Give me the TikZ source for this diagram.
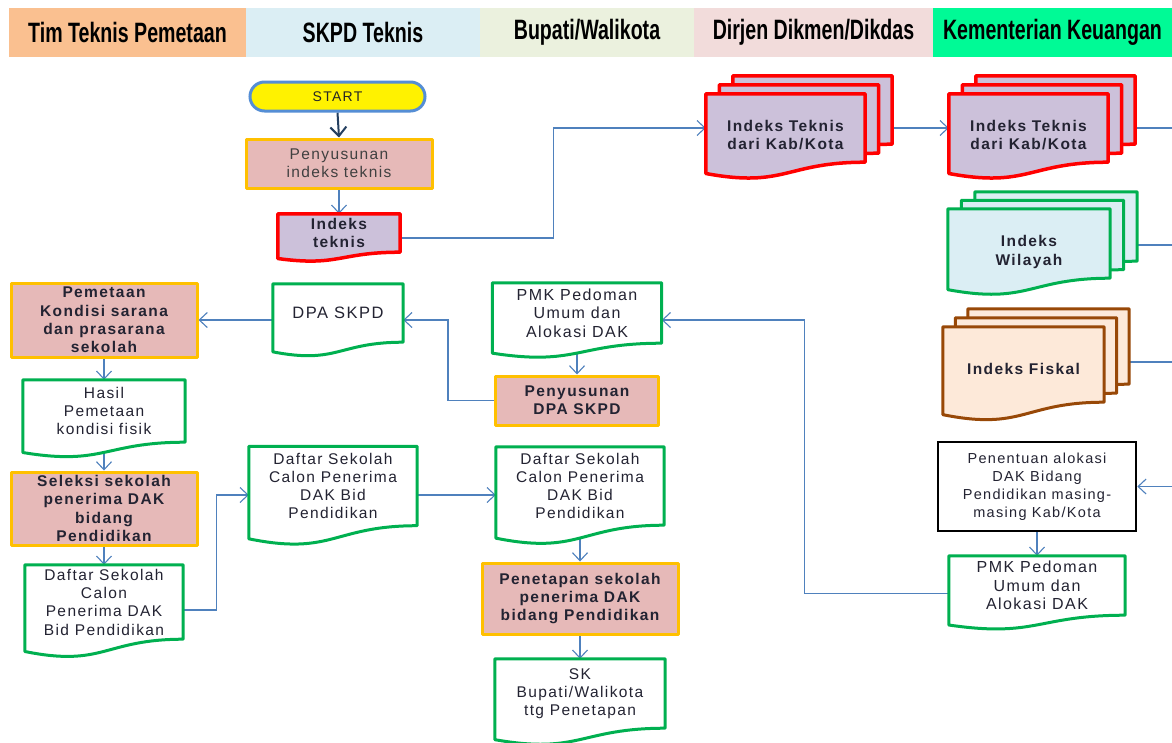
\documentclass[tikz,border=0pt]{standalone}
\usepackage{fontspec}
\usetikzlibrary{arrows.meta,shapes.misc,calc}
\newfontfamily\bodyfont{Liberation Sans}[LetterSpace=9]
\newfontfamily\headfont{Liberation Sans}[FakeStretch=0.7]

\definecolor{hdOrange}{RGB}{250,192,144}
\definecolor{hdBlue}{RGB}{219,238,244}
\definecolor{hdGreen}{RGB}{235,241,222}
\definecolor{hdPink}{RGB}{242,220,219}
\definecolor{hdMint}{RGB}{0,250,150}
\definecolor{procFill}{RGB}{230,185,184}
\definecolor{procLine}{RGB}{255,192,0}
\definecolor{lavFill}{RGB}{204,193,218}
\definecolor{docGreen}{RGB}{0,176,80}
\definecolor{wilFill}{RGB}{219,238,244}
\definecolor{fisFill}{RGB}{253,233,217}
\definecolor{fisLine}{RGB}{152,72,7}
\definecolor{connBlue}{RGB}{79,129,189}
\definecolor{startLine}{RGB}{85,142,213}
\definecolor{darkArrow}{RGB}{36,63,96}
\definecolor{txt}{RGB}{35,35,50}

\pgfdeclarelayer{bg}
\pgfdeclarelayer{lines}
\pgfdeclarelayer{shapes}
\pgfsetlayers{bg,lines,shapes,main}

% document outline: flat top, straight sides, wavy bottom.
% #1 style, #2 node, #3 distance of the straight bottom above the node's south side,
% #4,#5 offset of the outline (right, up)
\newcommand\docoutline[5]{%
  \begin{pgfonlayer}{shapes}
  \path[#1] let \p1=($(#2.north west)+(#4,-#5)$), \p2=($(#2.south east)+(#4,-#5)$),
    \n1={\y1-\y2-#3pt} in
    (\x1,\y1) -- (\x2,\y1) -- (\x2,{\y2+#3pt})
    .. controls ({(\x1+\x2)/2},{\y2+#3pt}) and ({(\x1+\x2)/2},{\y2+#3pt-0.381*\n1}) ..
    (\x1,{\y2+#3pt-0.165*\n1}) -- cycle;
  \end{pgfonlayer}}
% stacked documents: two copies behind, shifted by (#4,#5) each
\newcommand\multidocoutline[5]{%
  \docoutline{#1}{#2}{#3}{2*#4}{2*#5}%
  \docoutline{#1}{#2}{#3}{#4}{#5}%
  \docoutline{#1}{#2}{#3}{0}{0}}

\begin{document}
\begin{tikzpicture}[x=1pt,y=-1pt,
  base/.style={font={\bodyfont\fontsize{15.5}{18.3}\selectfont}, text=txt, align=center, inner sep=0pt},
  heavy/.style={font={\bodyfont\bfseries\fontsize{15.5}{18.3}\selectfont}},
  larger/.style={font={\bodyfont\fontsize{16}{18.3}\selectfont}},
  smaller/.style={font={\bodyfont\fontsize{14.5}{18}\selectfont}},
  band/.style={rectangle, inner sep=0pt, minimum height=49, text=black,
    font={\headfont\bfseries\fontsize{28}{30}\selectfont}},
  procbox/.style={base, rectangle, draw=procLine, fill=procFill, line width=3pt, line join=round},
  plainbox/.style={base, rectangle, draw=black, fill=white, line width=2.6pt},
  docnode/.style={base, rectangle},
  docG/.style={draw=docGreen, fill=white, line width=3pt, line join=round},
  docR/.style={draw=red, fill=lavFill, line width=3.5pt, line join=round},
  docW/.style={draw=docGreen, fill=wilFill, line width=3pt, line join=round},
  docF/.style={draw=fisLine, fill=fisFill, line width=3pt, line join=round},
  conn/.style={draw=connBlue, line width=1.1pt, -{Straight Barb[length=8pt,width=15pt]}},
  wire/.style={draw=connBlue, line width=1.1pt},
  darkconn/.style={draw=darkArrow, line width=2pt, -{Straight Barb[length=9pt,width=16pt]}}
]
\useasboundingbox (0,0) rectangle (1172,742);
\begin{pgfonlayer}{bg}
  \fill[white] (0,0) rectangle (1172,742);
\end{pgfonlayer}

% ---- swimlane headers
\node[band, fill=hdOrange, minimum width=237] (hTim)  at (127.5,32.5) {Tim Teknis Pemetaan};
\node[band, fill=hdBlue,   minimum width=234] (hSkpd) at (363,32.5)   {SKPD Teknis};
\node[band, fill=hdGreen,  minimum width=214] (hBup)  at (587,32.5)   {Bupati/Walikota};
\node[band, fill=hdPink,   minimum width=239] (hDir)  at (813.5,32.5) {Dirjen Dikmen/Dikdas};
\node[band, fill=hdMint,   minimum width=239] (hKeu)  at (1052.5,32.5) {Kementerian Keuangan};

% ---- SKPD Teknis column
\node[base, rounded rectangle, draw=startLine, fill=yellow, line width=3pt,
  minimum width=175, minimum height=29, font={\bodyfont\fontsize{14}{16}\selectfont}, text=black!85]
  (start) at (337.5,96.5) {START};
\node[procbox, minimum width=186, minimum height=49, text=black!75] (penyIdx) at (339,163.5)
  {Penyusunan\\indeks teknis};
\node[docnode, heavy, minimum width=122, minimum height=38] (idxTek) at (339,233) {Indeks\\teknis};
\docoutline{docR}{idxTek}{0}{0}{0}

\node[docnode, font={\bodyfont\fontsize{16.5}{18.3}\selectfont}, minimum width=130, minimum height=58]
  (dpa) at (338,313) {DPA SKPD};
\docoutline{docG}{dpa}{0}{0}{0}

% ---- Bupati/Walikota column
\node[docnode, larger, minimum width=169, minimum height=60] (pmkM) at (577,313)
  {PMK Pedoman\\Umum dan\\Alokasi DAK};
\docoutline{docG}{pmkM}{0}{0}{0}
\node[procbox, heavy, minimum width=163, minimum height=49] (penyDPA) at (577,400.5)
  {Penyusunan\\DPA SKPD};

\node[docnode, minimum width=168, minimum height=79] (daftarM1) at (333,486)
  {Daftar Sekolah\\Calon Penerima\\DAK Bid\\Pendidikan};
\docoutline{docG}{daftarM1}{0}{0}{0}
\node[docnode, minimum width=168, minimum height=78] (daftarM2) at (580,486)
  {Daftar Sekolah\\Calon Penerima\\DAK Bid\\Pendidikan};
\docoutline{docG}{daftarM2}{0}{0}{0}
\node[procbox, heavy, minimum width=196, minimum height=71] (penetapan) at (580,598.5)
  {Penetapan sekolah\\penerima DAK\\bidang Pendidikan};
\node[docnode, minimum width=170, minimum height=69] (sk) at (580,693.5)
  {SK\\Bupati/Walikota\\ttg Penetapan};
\docoutline{docG}{sk}{0}{0}{0}

% ---- Tim Teknis Pemetaan column
\node[procbox, heavy, minimum width=186, minimum height=74] (pemetaan) at (104,320)
  {Pemetaan\\Kondisi sarana\\dan prasarana\\sekolah};
\node[docnode, minimum width=162, minimum height=62] (hasil) at (104,411)
  {Hasil\\Pemetaan\\kondisi fisik};
\docoutline{docG}{hasil}{0}{0}{0}
\node[procbox, heavy, minimum width=186, minimum height=73] (seleksi) at (104,508.5)
  {Seleksi sekolah\\penerima DAK\\bidang\\Pendidikan};
\node[docnode, minimum width=158, minimum height=74] (daftarL) at (104,602)
  {Daftar Sekolah\\Calon\\Penerima DAK\\Bid Pendidikan};
\docoutline{docG}{daftarL}{0}{0}{0}

% ---- Dirjen / Kementerian columns
\node[docnode, heavy, minimum width=159, minimum height=82] (itk1) at (785.5,135)
  {Indeks Teknis\\dari Kab/Kota};
\multidocoutline{docR}{itk1}{14}{13.5}{9}
\node[docnode, heavy, minimum width=159, minimum height=82] (itk2) at (1028.5,135)
  {Indeks Teknis\\dari Kab/Kota};
\multidocoutline{docR}{itk2}{14}{13.5}{9}
\node[docnode, heavy, minimum width=162, minimum height=86] (wil) at (1029,252)
  {Indeks\\Wilayah};
\multidocoutline{docW}{wil}{17}{13.5}{8.5}
\node[docnode, heavy, minimum width=161, minimum height=84] (fis) at (1023.5,369)
  {Indeks Fiskal};
\multidocoutline{docF}{fis}{9}{12.5}{9}

\node[plainbox, smaller, minimum width=198, minimum height=89] (penentuan) at (1037,486.5)
  {Penentuan alokasi\\DAK Bidang\\Pendidikan masing-\\masing Kab/Kota};
\node[docnode, larger, minimum width=176, minimum height=59] (pmkR) at (1037,585.5)
  {PMK Pedoman\\Umum dan\\Alokasi DAK};
\docoutline{docG}{pmkR}{0}{0}{0}

% connector ends leaving / entering at the right edge
\coordinate (outA) at (1172,128);
\coordinate (outB) at (1172,245);
\coordinate (outC) at (1172,362);
\coordinate (inR)  at (1172,486.5);

% ---- connectors
\begin{pgfonlayer}{lines}
\draw[darkconn] (start.south) -- (penyIdx.north);
\draw[conn] (penyIdx.south) -- (idxTek.north);
\draw[conn] ([yshift=-5]idxTek.east) -- ++(153,0) |- ([yshift=7]itk1.west);
\draw[conn] ([xshift=27,yshift=7]itk1.east) -- ([yshift=7]itk2.west);
\draw[wire] ([xshift=27,yshift=7]itk2.east) -- (outA);
\draw[wire] ([xshift=27,yshift=7]wil.east) -- (outB);
\draw[wire] ([xshift=25,yshift=7]fis.east) -- (outC);
\draw[conn] (inR) -- (penentuan.east);
\draw[conn] (penentuan.south) -- (pmkR.north);
\draw[conn] ([yshift=-8]pmkR.west) -- ++(-144,0) |- ([yshift=-7]pmkM.east);
\draw[conn] (pmkM.south) -- (penyDPA.north);
\draw[conn] (penyDPA.west) -- ++(-46,0) |- ([yshift=-7]dpa.east);
\draw[conn] ([yshift=-7]dpa.west) -- (pemetaan.east);
\draw[conn] (pemetaan.south) -- (hasil.north);
\draw[conn] (hasil.south) -- (seleksi.north);
\draw[conn] (seleksi.south) -- (daftarL.north);
\draw[conn] ([yshift=-8]daftarL.east) -- ++(33,0) |- ([yshift=-9]daftarM1.west);
\draw[conn] ([yshift=-9]daftarM1.east) -- ([yshift=-9]daftarM2.west);
\draw[conn] (daftarM2.south) -- (penetapan.north);
\draw[conn] (penetapan.south) -- (sk.north);
\end{pgfonlayer}
\end{tikzpicture}
\end{document}
